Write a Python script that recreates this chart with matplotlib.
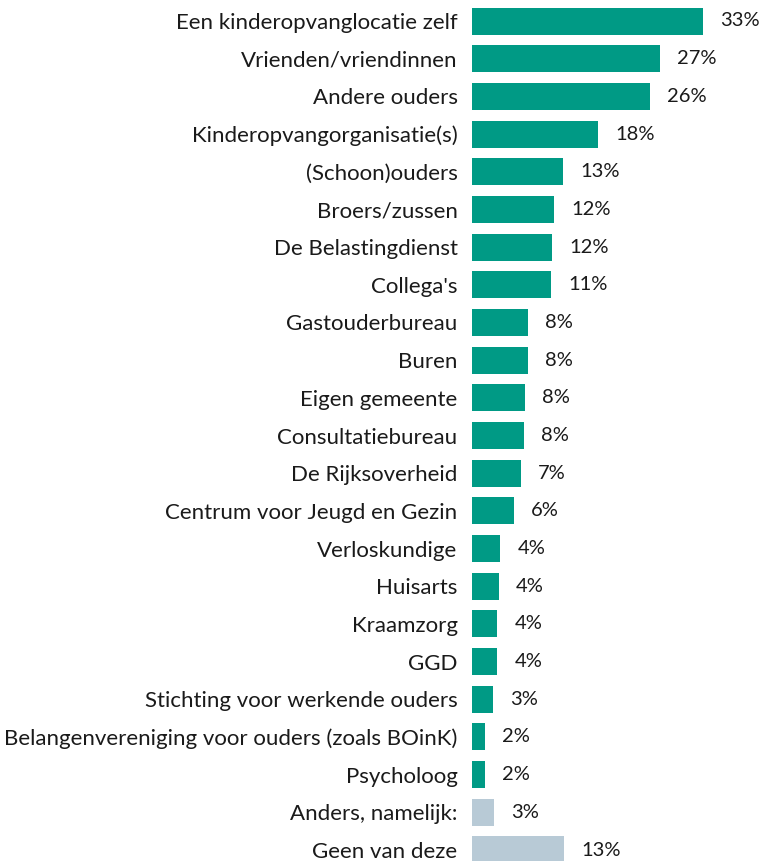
import matplotlib
matplotlib.use("Agg")
import matplotlib.pyplot as plt

categories = [
    "Een kinderopvanglocatie zelf",
    "Vrienden/vriendinnen",
    "Andere ouders",
    "Kinderopvangorganisatie(s)",
    "(Schoon)ouders",
    "Broers/zussen",
    "De Belastingdienst",
    "Collega's",
    "Gastouderbureau",
    "Buren",
    "Eigen gemeente",
    "Consultatiebureau",
    "De Rijksoverheid",
    "Centrum voor Jeugd en Gezin",
    "Verloskundige",
    "Huisarts",
    "Kraamzorg",
    "GGD",
    "Stichting voor werkende ouders",
    "Belangenvereniging voor ouders (zoals BOinK)",
    "Psycholoog",
    "Anders, namelijk:",
    "Geen van deze",
]
values = [33.1, 26.9, 25.5, 18.1, 13.1, 11.8, 11.5, 11.3, 8.0, 8.0, 7.6, 7.5,
          7.0, 6.0, 4.1, 3.9, 3.7, 3.7, 3.1, 1.9, 1.9, 3.2, 13.2]
is_other = [False] * 21 + [True, True]

TEAL = "#009A85"
GREY = "#B8CAD6"

plt.rcParams["font.family"] = ["Lato", "DejaVu Sans"]

W, H = 761, 861
fig = plt.figure(figsize=(W / 100, H / 100), dpi=100)
ax_left = 471.5 / W
ax = fig.add_axes([ax_left, 0, 1 - ax_left, 1])

px_per_pct = 7.0
row_px = (850 - 21) / 22
ypos = list(range(len(categories)))
colors = [GREY if o else TEAL for o in is_other]
ax.barh(ypos, values, height=27 / row_px, color=colors, edgecolor="none")

for y, v in zip(ypos, values):
    ax.annotate(f"{v:.0f}%", xy=(v, y), xytext=(12.5, 0), textcoords="offset points",
                ha="left", va="center", fontsize=14.5, color="#1a1a1a")

ax.set_xlim(0, (W - 471.5) / px_per_pct)
ax.set_ylim(22 + 11 / row_px, -21 / row_px)
ax.set_yticks(ypos)
ax.set_yticklabels(categories, fontsize=16, color="#1a1a1a")
ax.tick_params(axis="y", length=0, pad=10)
ax.set_xticks([])
for s in ax.spines.values():
    s.set_visible(False)

fig.savefig("out.png", dpi=100)
